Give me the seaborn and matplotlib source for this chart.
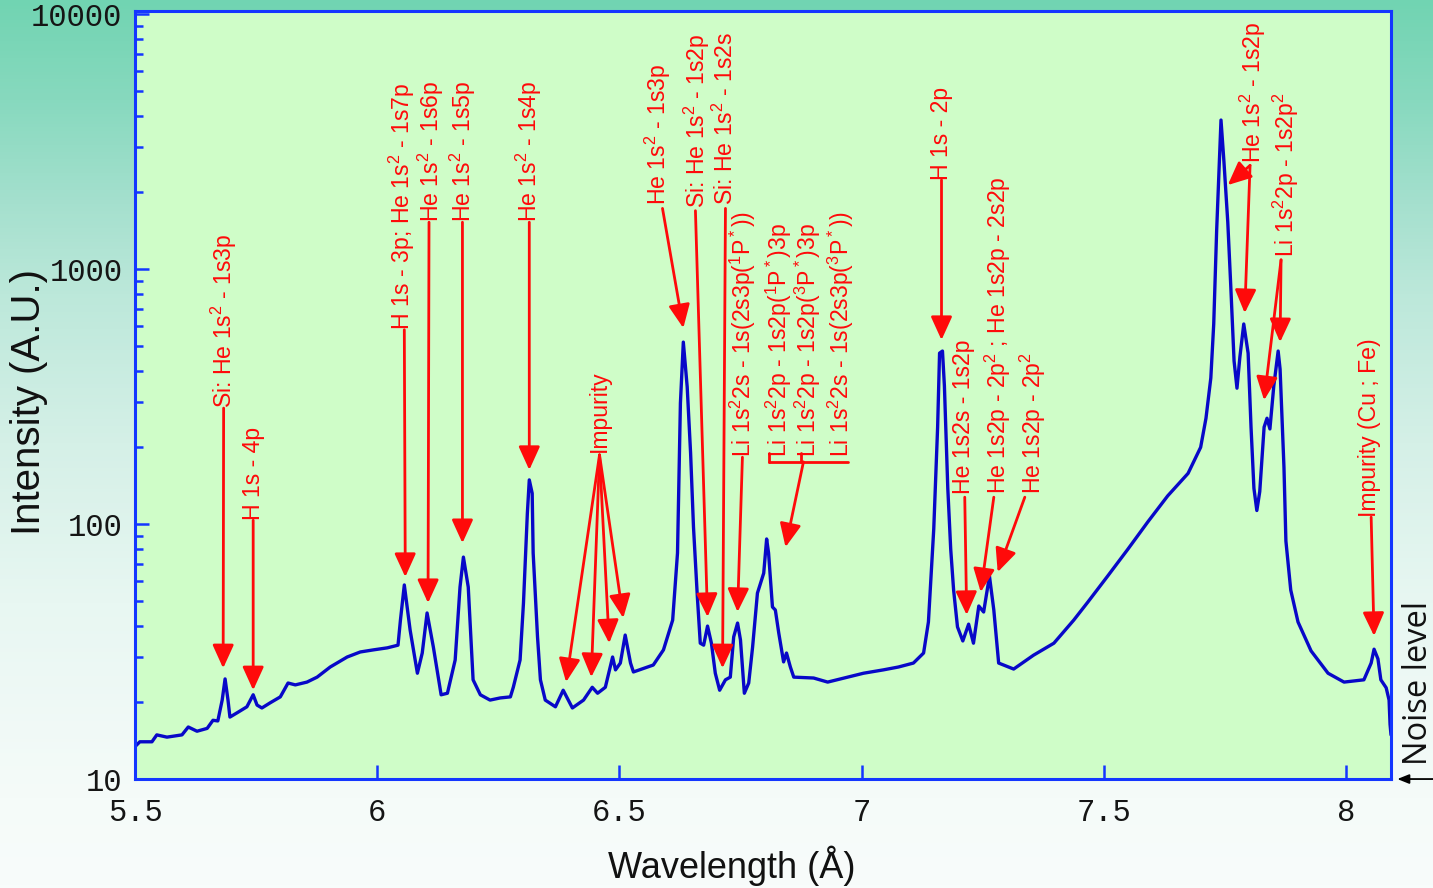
import matplotlib
matplotlib.use("Agg")
import numpy as np
import pandas as pd
import matplotlib.pyplot as plt
import seaborn as sns
from matplotlib.colors import LinearSegmentedColormap
from matplotlib.ticker import FixedLocator, FixedFormatter, LogLocator, NullFormatter

# ---- spectrum: wavelength (Å) and intensity (A.U.) ----
wavelength = [
    5.500, 5.510, 5.535, 5.545, 5.566, 5.597, 5.610, 5.628, 5.649, 5.661,
    5.671, 5.680, 5.686, 5.692, 5.696, 5.711, 5.731, 5.744, 5.752, 5.762,
    5.779, 5.800, 5.816, 5.831, 5.855, 5.876, 5.903, 5.938, 5.965, 5.992,
    6.021, 6.043, 6.048, 6.056, 6.068, 6.083, 6.093, 6.103, 6.116, 6.132,
    6.145, 6.161, 6.171, 6.178, 6.188, 6.198, 6.213, 6.233, 6.254, 6.275,
    6.281, 6.295, 6.302, 6.310, 6.314, 6.320, 6.322, 6.331, 6.337, 6.347,
    6.368, 6.384, 6.403, 6.426, 6.444, 6.455, 6.471, 6.486, 6.492, 6.502,
    6.512, 6.523, 6.529, 6.570, 6.591, 6.610, 6.620, 6.626, 6.632, 6.640,
    6.647, 6.653, 6.661, 6.667, 6.674, 6.682, 6.690, 6.698, 6.707, 6.719,
    6.729, 6.736, 6.744, 6.750, 6.758, 6.767, 6.775, 6.785, 6.798, 6.804,
    6.808, 6.816, 6.822, 6.829, 6.839, 6.845, 6.853, 6.860, 6.901, 6.930,
    6.971, 7.004, 7.045, 7.076, 7.107, 7.128, 7.138, 7.149, 7.157, 7.161,
    7.167, 7.171, 7.178, 7.184, 7.190, 7.198, 7.209, 7.221, 7.231, 7.242,
    7.252, 7.264, 7.273, 7.283, 7.314, 7.355, 7.397, 7.438, 7.467, 7.508,
    7.550, 7.591, 7.632, 7.674, 7.700, 7.711, 7.721, 7.727, 7.733, 7.742,
    7.748, 7.756, 7.762, 7.769, 7.775, 7.781, 7.789, 7.798, 7.804, 7.810,
    7.816, 7.822, 7.831, 7.837, 7.843, 7.851, 7.860, 7.864, 7.872, 7.876,
    7.886, 7.901, 7.928, 7.963, 7.996, 8.037, 8.052, 8.058, 8.066, 8.072,
    8.083, 8.089, 8.091, 8.093,
]
intensity = [
    13.4, 14.0, 14.0, 14.9, 14.6, 14.9, 16.0, 15.4, 15.8, 17.0,
    16.9, 20.4, 24.7, 20.4, 17.5, 18.2, 19.2, 21.4, 19.5, 19.0,
    19.9, 21.0, 23.8, 23.4, 24.0, 25.1, 27.5, 30.1, 31.5, 32.1,
    32.7, 33.5, 42.0, 57.7, 38.4, 26.0, 31.2, 44.8, 32.9, 21.4,
    21.7, 29.3, 56.6, 74.2, 56.6, 24.5, 21.4, 20.4, 20.8, 21.0,
    22.9, 29.3, 49.0, 110, 149, 132, 77.0, 36.1, 24.5, 20.4,
    19.2, 22.3, 19.0, 20.4, 22.9, 21.7, 22.9, 30.1, 26.8, 28.5,
    36.7, 28.5, 26.3, 28.0, 32.1, 42.0, 77.0, 298, 517, 345,
    190, 97.3, 51.7, 34.1, 33.5, 39.8, 34.1, 26.0, 22.3, 24.5,
    25.1, 36.1, 40.9, 35.1, 21.7, 23.8, 32.9, 53.6, 64.2, 87.4,
    77.0, 47.3, 46.0, 37.4, 28.8, 31.2, 27.5, 25.1, 24.9, 24.0,
    25.1, 26.0, 26.8, 27.5, 28.5, 31.2, 41.3, 95.6, 240, 468,
    477, 348, 138, 79.8, 55.1, 39.5, 34.8, 40.5, 34.1, 47.7,
    45.2, 62.5, 46.0, 28.5, 27.0, 30.6, 34.1, 42.0, 49.4, 62.5,
    79.8, 102, 129, 158, 200, 260, 374, 609, 1409, 3840,
    2652, 1529, 873, 436, 341, 452, 609, 468, 240, 138,
    113, 134, 240, 260, 236, 348, 477, 405, 167, 85.8,
    55.1, 41.3, 31.8, 26.0, 24.0, 24.5, 28.5, 32.3, 29.6, 24.5,
    22.8, 20.4, 16.4, 14.9,
]

x_ticks = [5.5, 6.0, 6.5, 7.0, 7.5, 8.0]
x_tick_labels = ["5.5", "6", "6.5", "7", "7.5", "8"]
y_ticks = [10, 100, 1000, 10000]
y_tick_labels = ["10", "100", "1000", "10000"]

# line identifications: label, text x (Å), text base (axes fraction),
# arrow tail (Å, axes fraction), arrow targets [(Å, intensity)]
line_ids = [
    (r"Si: He 1s$^2$ - 1s3p", 5.684, 0.483, (5.683, 0.483), [(5.682, 27.2)]),
    ("H 1s - 4p", 5.744, 0.337, (5.744, 0.337), [(5.744, 22.3)]),
    (r"H 1s - 3p; He 1s$^2$ - 1s7p", 6.050, 0.585, (6.056, 0.585), [(6.058, 62.0)]),
    (r"He 1s$^2$ - 1s6p", 6.111, 0.725, (6.107, 0.725), [(6.105, 49.0)]),
    (r"He 1s$^2$ - 1s5p", 6.177, 0.725, (6.176, 0.725), [(6.176, 84.2)]),
    (r"He 1s$^2$ - 1s4p", 6.314, 0.725, (6.314, 0.725), [(6.314, 163)]),
    ("Impurity", 6.459, 0.426, (6.459, 0.422),
     [(6.390, 24.0), (6.442, 25.1), (6.479, 34.1), (6.508, 42.8)]),
    (r"He 1s$^2$ - 1s3p", 6.579, 0.747, (6.589, 0.743), [(6.632, 587)]),
    (r"Si: He 1s$^2$ - 1s2p", 6.661, 0.743, (6.657, 0.740), [(6.682, 43.2)]),
    (r"Si: He 1s$^2$ - 1s2s", 6.719, 0.747, (6.719, 0.743), [(6.713, 27.2)]),
    (r"Li 1s$^2$2s - 1s(2s3p($^1$P$^*$))", 6.756, 0.419, (6.754, 0.419), [(6.744, 45.2)]),
    ("H 1s - 2p", 7.165, 0.780, (7.165, 0.780), [(7.165, 527)]),
    ("He 1s2s - 1s2p", 7.211, 0.371, (7.213, 0.367), [(7.217, 44.0)]),
    (r"He 1s2p - 2p$^2$ ; He 1s2p - 2s2p", 7.281, 0.371, (7.273, 0.367), [(7.246, 54.1)]),
    (r"He 1s2p - 2p$^2$", 7.353, 0.371, (7.337, 0.367), [(7.281, 64.8)]),
    (r"He 1s$^2$ - 1s2p", 7.808, 0.802, (7.802, 0.799), [(7.756, 2135), (7.791, 672)]),
    (r"Li 1s$^2$2p - 1s2p$^2$", 7.876, 0.680, (7.866, 0.676), [(7.831, 306), (7.864, 517)]),
    ("Impurity (Cu ; Fe)", 8.048, 0.341, (8.052, 0.341), [(8.058, 36.4)]),
]

# bracketed group of Li satellites sharing one arrow
li_group_labels = [
    r"Li 1s$^2$2p - 1s2p($^1$P$^*$)3p",
    r"Li 1s$^2$2p - 1s2p($^3$P$^*$)3p",
    r"Li 1s$^2$2s - 1s(2s3p($^3$P$^*$))",
]
li_group_x = [6.829, 6.890, 6.957]
li_group_target = (6.843, 81.2)

RED = "#ff0a0a"
BLUE_LINE = "#0808c8"
BLUE_AXIS = "#1436ff"

sns.set_theme(style="ticks")
plt.rcParams["font.family"] = ["Liberation Sans", "DejaVu Sans"]
plt.rcParams["mathtext.fontset"] = "custom"
plt.rcParams["mathtext.rm"] = "Liberation Sans"
plt.rcParams["mathtext.it"] = "Liberation Sans"
plt.rcParams["mathtext.default"] = "rm"

fig = plt.figure(figsize=(14.33, 8.88), dpi=100)

# soft teal-to-white backdrop
bg = fig.add_axes([0, 0, 1, 1], zorder=0)
grad_cmap = LinearSegmentedColormap.from_list(
    "backdrop",
    [(0.0, "#71d4b2"), (0.11, "#87d9be"), (0.23, "#a5e0ce"), (0.33, "#bce8da"),
     (0.5, "#d5f0e7"), (0.68, "#e8f7f2"), (0.9, "#f5fbf9"), (1.0, "#f8fcfb")])
bg.imshow(np.linspace(0, 1, 256)[:, None], aspect="auto", cmap=grad_cmap,
          extent=[0, 1, 0, 1])
bg.set_axis_off()

ax = fig.add_axes([0.0942, 0.1227, 0.8765, 0.8649], zorder=1)
ax.set_facecolor("#cffdc8")

df = pd.DataFrame({"Wavelength": wavelength, "Intensity": intensity})
sns.lineplot(data=df, x="Wavelength", y="Intensity", ax=ax, color=BLUE_LINE,
             linewidth=2.4, estimator=None, sort=False)

ax.set_yscale("log")
ax.set_xlim(5.5, 8.093)
ax.set_ylim(10, 10280)

ax.xaxis.set_major_locator(FixedLocator(x_ticks))
ax.xaxis.set_major_formatter(FixedFormatter(x_tick_labels))
ax.yaxis.set_major_locator(FixedLocator(y_ticks))
ax.yaxis.set_major_formatter(FixedFormatter(y_tick_labels))
ax.yaxis.set_minor_locator(LogLocator(base=10, subs=np.arange(2, 10)))
ax.yaxis.set_minor_formatter(NullFormatter())

for side in ["left", "right", "top", "bottom"]:
    ax.spines[side].set_color(BLUE_AXIS)
    ax.spines[side].set_linewidth(2.2)

ax.tick_params(which="both", direction="in", color=BLUE_AXIS, width=1.8,
               top=False, right=False)
ax.tick_params(which="major", length=10)
ax.tick_params(which="minor", length=6)
ax.tick_params(axis="y", which="major", pad=9)
ax.tick_params(axis="x", which="major", pad=14)
for lab in ax.get_xticklabels() + ax.get_yticklabels():
    lab.set_fontfamily("Liberation Mono")
    lab.set_fontsize(22)
    lab.set_color("#151515")

ax.set_xlabel("Wavelength (Å)", fontsize=26, color="#111111", va="center")
ax.xaxis.set_label_coords(0.475, -0.113)
ax.set_ylabel("Intensity (A.U.)", fontsize=29, color="#111111", va="center")
ax.yaxis.set_label_coords(-0.084, 0.491)

xtrans = ax.get_xaxis_transform()
arrow_kw = dict(arrowstyle="-|>,head_length=0.55,head_width=0.25", color=RED,
                lw=2.0, shrinkA=0, shrinkB=0, mutation_scale=26)
TEXT_SIZE = 16.6

for label, tx, ty, (ax_x, ax_y), targets in line_ids:
    ax.text(tx, ty, label, transform=xtrans, rotation=90, ha="center",
            va="bottom", color=RED, fontsize=TEXT_SIZE)
    for wl, level in targets:
        ax.annotate("", xy=(wl, level), xycoords="data",
                    xytext=(ax_x, ax_y), textcoords=("data", "axes fraction"),
                    arrowprops=arrow_kw)

for label, tx in zip(li_group_labels, li_group_x):
    ax.text(tx, 0.419, label, transform=xtrans, rotation=90, ha="center",
            va="bottom", color=RED, fontsize=TEXT_SIZE)
ax.plot([6.808, 6.973], [0.413, 0.413], transform=xtrans, color=RED, lw=2)
ax.plot([6.808, 6.808], [0.413, 0.425], transform=xtrans, color=RED, lw=2)
ax.plot([6.875, 6.875], [0.413, 0.425], transform=xtrans, color=RED, lw=2)
ax.annotate("", xy=li_group_target, xycoords="data",
            xytext=(6.880, 0.413), textcoords=("data", "axes fraction"),
            arrowprops=arrow_kw)

# noise floor marker outside the right edge
ax.annotate("", xy=(1.005, 10), xycoords=("axes fraction", "data"),
            xytext=(1.04, 10), textcoords=("axes fraction", "data"),
            arrowprops=dict(arrowstyle="-|>,head_length=0.5,head_width=0.2",
                            color="black", lw=1.3, mutation_scale=14,
                            shrinkA=0, shrinkB=0),
            annotation_clip=False)
ax.text(1.0215, 0.018, "Noise level", transform=ax.transAxes, rotation=90,
        ha="center", va="bottom", fontsize=23.5, color="#111111",
        fontfamily=["Open Sans", "DejaVu Sans"], clip_on=False)

fig.savefig("out.png", dpi=100)
